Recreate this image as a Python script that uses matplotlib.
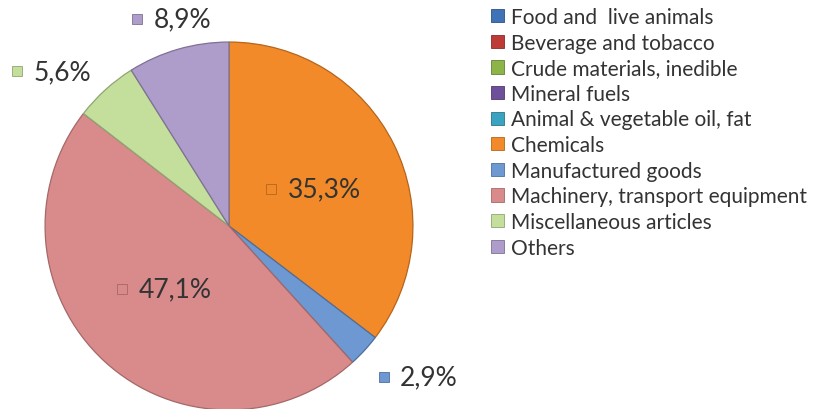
import numpy as np
import matplotlib.pyplot as plt
from matplotlib.patches import Patch

# categories and shares (%), zero-share categories only appear in the legend
categories = ['Food and  live animals', 'Beverage and tobacco', 'Crude materials, inedible',
              'Mineral fuels', 'Animal & vegetable oil, fat', 'Chemicals',
              'Manufactured goods', 'Machinery, transport equipment',
              'Miscellaneous articles', 'Others']
shares = [0, 0, 0, 0, 0, 35.3, 2.9, 47.1, 5.6, 8.9]
colors = ['#3F73B5', '#BE3A37', '#8DB446', '#6E4F9A', '#3AA3BF', '#F28A2A',
          '#6E98D2', '#D98B8B', '#C4DE9C', '#AE9CCB']
edges = ['#2B5283', '#8A2A28', '#62803A', '#4E386E', '#2A7589', '#B5651C',
         '#4E6E9C', '#A56868', '#8FA573', '#7E7195']

# label anchor offsets (in pie radii) for the visible slices
label_pos = {'Chemicals': (0.20, 0.20), 'Manufactured goods': (0.81, -0.82),
             'Machinery, transport equipment': (-0.61, -0.34),
             'Miscellaneous articles': (-1.18, 0.84), 'Others': (-0.53, 1.125)}

plt.rcParams['font.family'] = ['Lato', 'DejaVu Sans']

fig = plt.figure(figsize=(8.27, 4.10), dpi=100)
ax = fig.add_axes([0, 0, 458 / 827, 1])

vis = [i for i, s in enumerate(shares) if s > 0]
wedges, _ = ax.pie([shares[i] for i in vis], colors=[colors[i] for i in vis],
                   startangle=90, counterclock=False, radius=1.0,
                   wedgeprops=dict(linewidth=0.9))
for w, i in zip(wedges, vis):
    w.set_edgecolor(edges[i])

for i in vis:
    x, y = label_pos[categories[i]]
    ax.plot(x + 0.03, y, marker='s', ms=7, mfc=colors[i], mec=edges[i], mew=0.6,
            clip_on=False)
    ax.text(x + 0.12, y, f'{shares[i]:.1f}%'.replace('.', ','), fontsize=19,
            color='#333333', va='center', ha='left')

ax.set_xlim(-1.245, 1.245)
ax.set_ylim(-0.995, 1.234)
ax.set_aspect('auto')
ax.axis('off')

handles = [Patch(facecolor=c, edgecolor=e, linewidth=0.6) for c, e in zip(colors, edges)]
leg = fig.legend(handles, categories, loc='upper left', bbox_to_anchor=(491 / 827, 1 - 8 / 410),
                 frameon=False, fontsize=15, handlelength=0.6, handleheight=0.6,
                 handletextpad=0.35, labelspacing=0.27, borderaxespad=0, borderpad=0)
for t in leg.get_texts():
    t.set_color('#333333')

fig.savefig('out.png', dpi=100)
